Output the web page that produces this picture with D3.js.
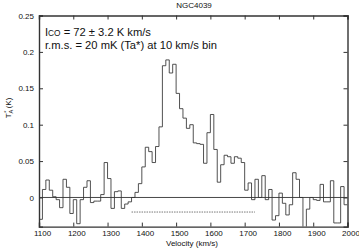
<!DOCTYPE html>
<html><head><meta charset="utf-8">
<script src="https://cdn.jsdelivr.net/npm/d3@7"></script>
<style>
html,body{margin:0;padding:0;background:#fff;}
svg{display:block;font-family:"Liberation Sans",Arial,sans-serif;}
</style></head>
<body>
<svg id="chart" width="359" height="249"></svg>
<script>
const title = "NGC4039";
const velocity = [1100,1110,1120,1130,1140,1150,1160,1170,1180,1190,
1200,1210,1220,1230,1240,1250,1260,1270,1280,1290,
1300,1310,1320,1330,1340,1350,1360,1370,1380,1390,
1400,1410,1420,1430,1440,1450,1460,1470,1480,1490,
1500,1510,1520,1530,1540,1550,1560,1570,1580,1590,
1600,1610,1620,1630,1640,1650,1660,1670,1680,1690,
1700,1710,1720,1730,1740,1750,1760,1770,1780,1790,
1800,1810,1820,1830,1840,1850,1860,1870,1880,1890,
1900,1910,1920,1930,1940,1950,1960,1970,1980,1990];
const binWidth = 10;
const ta = [-0.030,0.011,0.024,0.010,0.001,-0.003,-0.014,0.025,0.014,-0.022,
-0.003,-0.036,-0.003,0.014,0.023,-0.007,-0.005,-0.005,0.004,0.048,
0.026,-0.015,0.008,0.009,-0.015,-0.009,-0.006,0.000,0.007,0.019,
0.042,0.069,0.063,0.048,0.070,0.097,0.181,0.189,0.171,0.183,
0.143,0.122,0.109,0.095,0.100,0.075,0.074,0.073,0.047,0.089,
0.114,0.066,0.021,0.045,0.058,0.056,0.047,0.056,0.054,0.048,
0.010,0.020,-0.003,0.025,0.000,0.030,-0.003,0.011,-0.031,-0.025,
0.006,-0.008,-0.024,-0.010,0.034,0.025,0.000,-0.045,-0.016,0.000,
-0.003,-0.004,0.018,-0.006,-0.006,0.023,-0.035,-0.035,0.015,-0.010];
const xTicks = [1100,1200,1300,1400,1500,1600,1700,1800,1900,2000];
const yTicks = [0,0.05,0.1,0.15,0.2,0.25];
const yTickLabels = ["0","0.05","0.1","0.15","0.2","0.25"];
const windowRange = [1370,1730];
const windowLevel = -0.02;
const noteLine2 = "r.m.s. = 20 mK (Ta*) at 10 km/s bin";

const svg = d3.select("#chart");
const x = d3.scaleLinear().domain([1100,2000]).range([39,347.5]);
const y = d3.scaleLinear().domain([-0.04,0.25]).range([226.6,15.5]);
const ink = "#333";

svg.append("defs").append("clipPath").attr("id","clip")
  .append("rect").attr("x",39).attr("y",15.5).attr("width",308.5).attr("height",211.1);

svg.append("line").attr("x1",x(1100)).attr("x2",x(2000)).attr("y1",y(0)).attr("y2",y(0))
  .attr("stroke",ink).attr("stroke-width",0.9);
svg.append("line").attr("x1",x(windowRange[0])).attr("x2",x(windowRange[1]))
  .attr("y1",y(windowLevel)).attr("y2",y(windowLevel))
  .attr("stroke","#555").attr("stroke-width",0.8).attr("stroke-dasharray","1.5,1");

const pts = [];
velocity.forEach((v,i)=>{ pts.push([v,ta[i]]); pts.push([v+binWidth,ta[i]]); });
svg.append("path").attr("clip-path","url(#clip)")
  .attr("d", d3.line().x(d=>x(d[0])).y(d=>y(d[1]))(pts))
  .attr("fill","none").attr("stroke",ink).attr("stroke-width",0.85);

const axB = svg.append("g").attr("transform",`translate(0,${y(-0.04)})`)
  .call(d3.axisBottom(x).tickValues(xTicks).tickSize(-4).tickPadding(4).tickFormat(d3.format("d")));
const axT = svg.append("g").attr("transform",`translate(0,${y(0.25)})`)
  .call(d3.axisTop(x).tickValues(xTicks).tickSize(-4).tickFormat(""));
const axL = svg.append("g").attr("transform",`translate(${x(1100)},0)`)
  .call(d3.axisLeft(y).tickValues(yTicks).tickSize(-4).tickPadding(5).tickFormat((d,i)=>yTickLabels[i]));
const axR = svg.append("g").attr("transform",`translate(${x(2000)},0)`)
  .call(d3.axisRight(y).tickValues(yTicks).tickSize(-4).tickFormat(""));
[axB,axT,axL,axR].forEach(g=>{
  g.select(".domain").attr("stroke",ink).attr("stroke-width",1.4);
  g.selectAll(".tick line").attr("stroke",ink);
  g.selectAll("text").attr("fill","#111").style("font-size","8px").style("font-family","'Liberation Sans',Arial,sans-serif");
});
axB.selectAll("text").attr("dx",3);

svg.append("text").attr("x",194).attr("y",8).attr("text-anchor","middle")
  .style("font-size","8px").attr("fill","#111").text(title);
svg.append("text").attr("x",192).attr("y",246).attr("text-anchor","middle")
  .style("font-size","8px").attr("fill","#111").text("Velocity (km/s)");
const yl = svg.append("text").attr("transform","translate(11,108) rotate(-90)")
  .attr("text-anchor","middle").style("font-size","8px").attr("fill","#111");
yl.append("tspan").text("T");
yl.append("tspan").attr("font-size","5.5px").attr("dy",2).text("A");
yl.append("tspan").attr("font-size","5.5px").attr("dy",-5).attr("dx",-3).text("*");
yl.append("tspan").attr("dy",3).text(" (K)");

const n1 = svg.append("text").attr("x",45).attr("y",36).style("font-size","11.2px").attr("fill","#111");
n1.append("tspan").text("I");
n1.append("tspan").style("font-size","8.3px").text("CO");
n1.append("tspan").text(" = 72 \u00B1 3.2 K km/s");
svg.append("text").attr("x",45).attr("y",49).style("font-size","11.2px").attr("fill","#111").text(noteLine2);
</script>
</body></html>
